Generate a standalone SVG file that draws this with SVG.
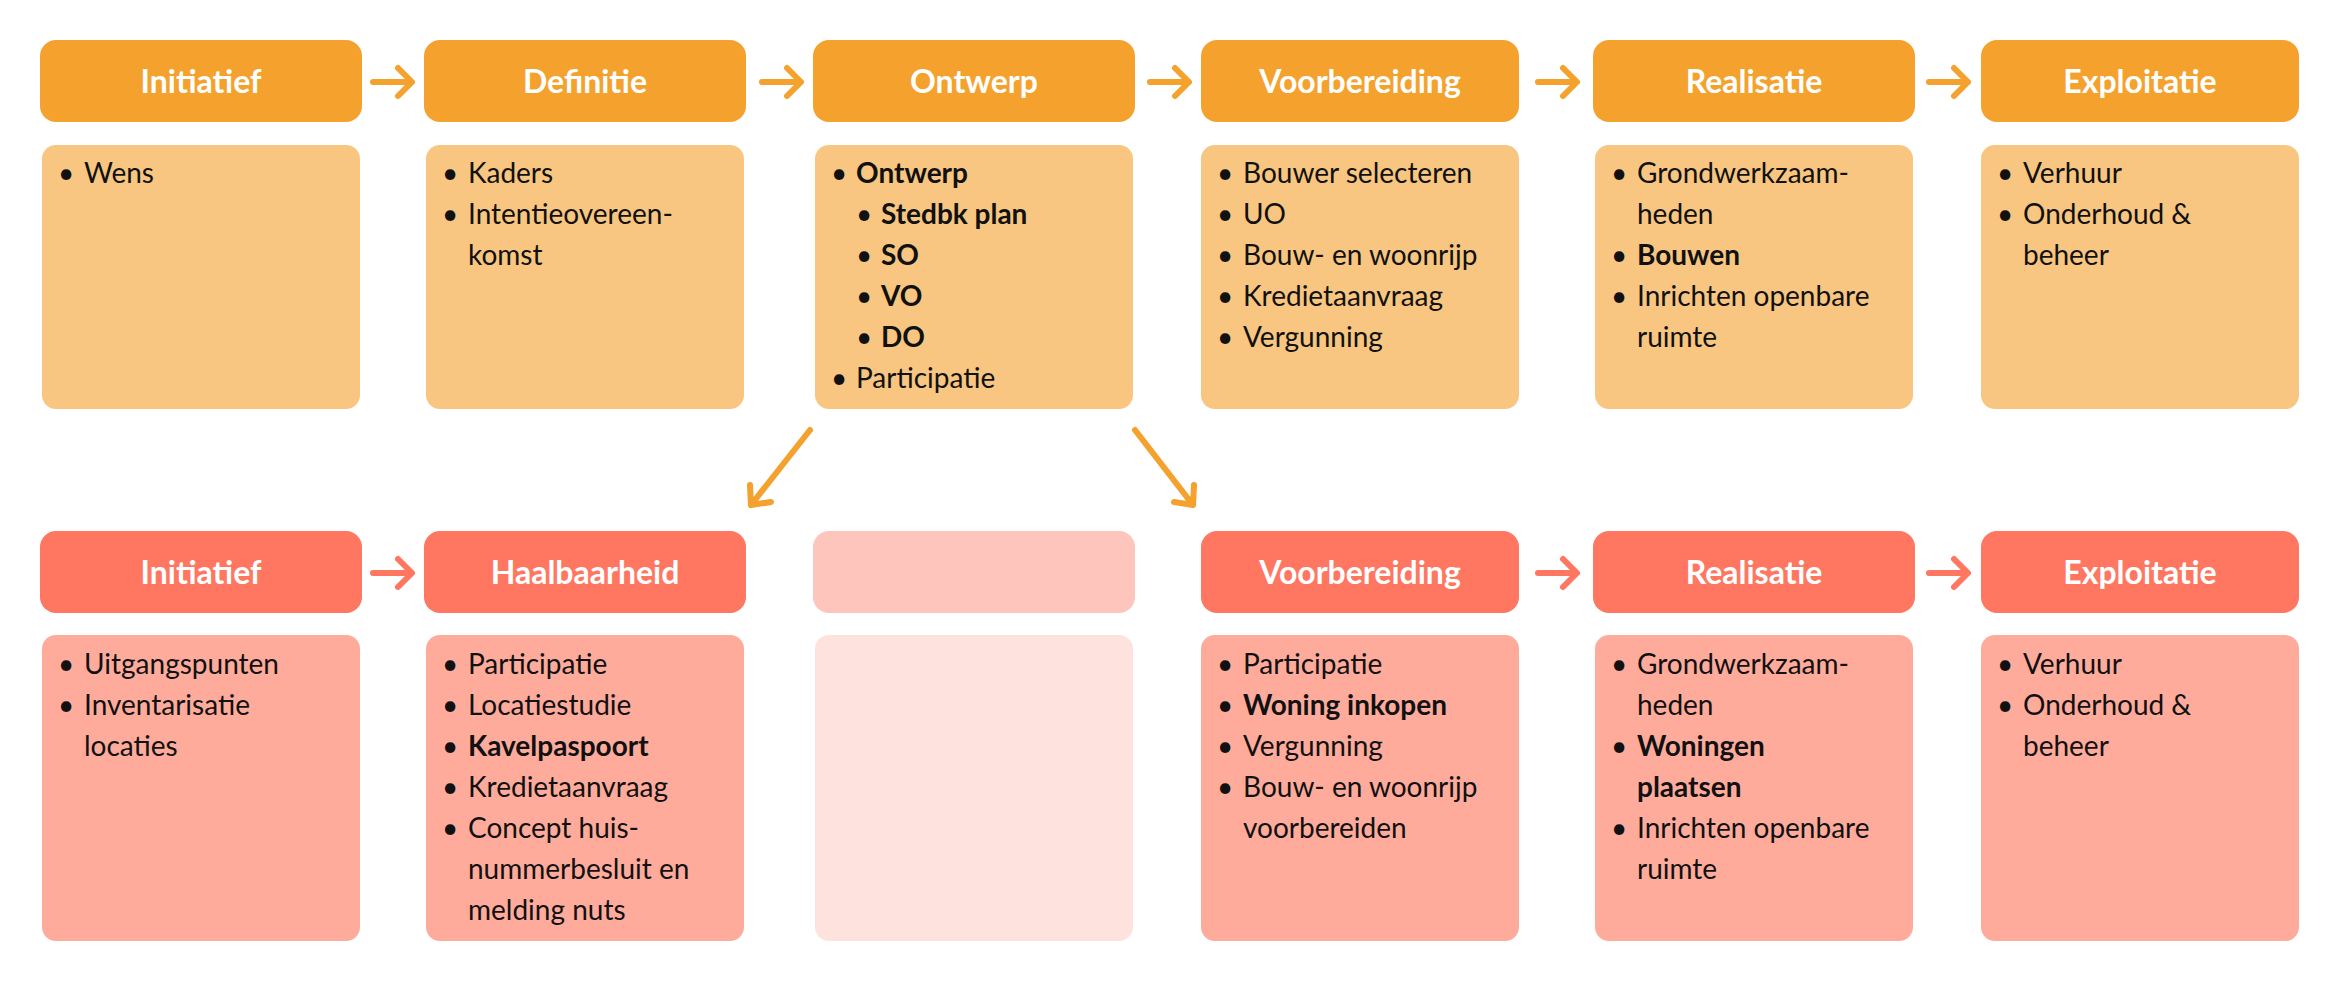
<svg xmlns="http://www.w3.org/2000/svg" width="2339" height="981" viewBox="0 0 2339 981">
<style>
.h1{fill:#F4A22D}.c1{fill:#F8C680}.h2{fill:#FF7661}.c2{fill:#FFAB9C}
.ht{font-family:Lato,"Open Sans",sans-serif;font-weight:bold;font-size:32px;fill:#fff;text-anchor:middle}
.t{font-family:Lato,"Open Sans",sans-serif;font-size:28px;fill:#111}
.b{font-weight:bold}
.ar1{stroke:#F4A22D;stroke-width:6;fill:none;stroke-linecap:round;stroke-linejoin:round}
.ar2{stroke:#FF7661;stroke-width:6;fill:none;stroke-linecap:round;stroke-linejoin:round}
</style>
<rect width="2339" height="981" fill="#fff"/>
<g id="connectors">
<path class="ar1" d="M373 82H411M398 68L412 82L398 96"/>
<path class="ar1" d="M762 82H800M787 68L801 82L787 96"/>
<path class="ar1" d="M1150 82H1188M1175 68L1189 82L1175 96"/>
<path class="ar1" d="M1538 82H1576M1563 68L1577 82L1563 96"/>
<path class="ar1" d="M1929 82H1967M1954 68L1968 82L1954 96"/>
<path class="ar1" d="M810 430L751 505M750 485L751 505L771 502"/>
<path class="ar1" d="M1135 430L1193 505M1174 502L1193 505L1194 485"/>
<path class="ar2" d="M373 573H411M398 559L412 573L398 587"/>
<path class="ar2" d="M1538 573H1576M1563 559L1577 573L1563 587"/>
<path class="ar2" d="M1929 573H1967M1954 559L1968 573L1954 587"/>
</g>
<g id="t1"><rect class="h1" x="40" y="40" width="322" height="82" rx="16"/><text class="ht" x="201" y="93">Initiatief</text>
<rect class="c1" x="42" y="145" width="318" height="264" rx="14"/>
<text class="t"><tspan x="58" y="183">•</tspan><tspan x="84" y="183">Wens</tspan></text></g>
<g id="t2"><rect class="h1" x="424" y="40" width="322" height="82" rx="16"/><text class="ht" x="585" y="93">Definitie</text>
<rect class="c1" x="426" y="145" width="318" height="264" rx="14"/>
<text class="t"><tspan x="442" y="183">•</tspan><tspan x="468" y="183">Kaders</tspan><tspan x="442" y="224">•</tspan><tspan x="468" y="224">Intentieovereen-</tspan><tspan x="468" y="265">komst</tspan></text></g>
<g id="t3"><rect class="h1" x="813" y="40" width="322" height="82" rx="16"/><text class="ht" x="974" y="93">Ontwerp</text>
<rect class="c1" x="815" y="145" width="318" height="264" rx="14"/>
<text class="t"><tspan x="831" y="183">•</tspan><tspan x="856" y="183" class="b">Ontwerp</tspan>
<tspan x="856" y="224">•</tspan><tspan x="881" y="224" class="b">Stedbk plan</tspan>
<tspan x="856" y="265">•</tspan><tspan x="881" y="265" class="b">SO</tspan>
<tspan x="856" y="306">•</tspan><tspan x="881" y="306" class="b">VO</tspan>
<tspan x="856" y="347">•</tspan><tspan x="881" y="347" class="b">DO</tspan>
<tspan x="831" y="388">•</tspan><tspan x="856" y="388">Participatie</tspan></text></g>
<g id="t4"><rect class="h1" x="1201" y="40" width="318" height="82" rx="16"/><text class="ht" x="1360" y="93">Voorbereiding</text>
<rect class="c1" x="1201" y="145" width="318" height="264" rx="14"/>
<text class="t"><tspan x="1217" y="183">•</tspan><tspan x="1243" y="183">Bouwer selecteren</tspan><tspan x="1217" y="224">•</tspan><tspan x="1243" y="224">UO</tspan><tspan x="1217" y="265">•</tspan><tspan x="1243" y="265">Bouw- en woonrijp</tspan><tspan x="1217" y="306">•</tspan><tspan x="1243" y="306">Kredietaanvraag</tspan><tspan x="1217" y="347">•</tspan><tspan x="1243" y="347">Vergunning</tspan></text></g>
<g id="t5"><rect class="h1" x="1593" y="40" width="322" height="82" rx="16"/><text class="ht" x="1754" y="93">Realisatie</text>
<rect class="c1" x="1595" y="145" width="318" height="264" rx="14"/>
<text class="t"><tspan x="1611" y="183">•</tspan><tspan x="1637" y="183">Grondwerkzaam-</tspan><tspan x="1637" y="224">heden</tspan><tspan x="1611" y="265">•</tspan><tspan x="1637" y="265" class="b">Bouwen</tspan><tspan x="1611" y="306">•</tspan><tspan x="1637" y="306">Inrichten openbare</tspan><tspan x="1637" y="347">ruimte</tspan></text></g>
<g id="t6"><rect class="h1" x="1981" y="40" width="318" height="82" rx="16"/><text class="ht" x="2140" y="93">Exploitatie</text>
<rect class="c1" x="1981" y="145" width="318" height="264" rx="14"/>
<text class="t"><tspan x="1997" y="183">•</tspan><tspan x="2023" y="183">Verhuur</tspan><tspan x="1997" y="224">•</tspan><tspan x="2023" y="224">Onderhoud &amp;</tspan><tspan x="2023" y="265">beheer</tspan></text></g>
<g id="b1"><rect class="h2" x="40" y="531" width="322" height="82" rx="16"/><text class="ht" x="201" y="584">Initiatief</text>
<rect class="c2" x="42" y="635" width="318" height="306" rx="14"/>
<text class="t"><tspan x="58" y="674">•</tspan><tspan x="84" y="674">Uitgangspunten</tspan><tspan x="58" y="715">•</tspan><tspan x="84" y="715">Inventarisatie</tspan><tspan x="84" y="756">locaties</tspan></text></g>
<g id="b2"><rect class="h2" x="424" y="531" width="322" height="82" rx="16"/><text class="ht" x="585" y="584">Haalbaarheid</text>
<rect class="c2" x="426" y="635" width="318" height="306" rx="14"/>
<text class="t"><tspan x="442" y="674">•</tspan><tspan x="468" y="674">Participatie</tspan><tspan x="442" y="715">•</tspan><tspan x="468" y="715">Locatiestudie</tspan><tspan x="442" y="756">•</tspan><tspan x="468" y="756" class="b">Kavelpaspoort</tspan><tspan x="442" y="797">•</tspan><tspan x="468" y="797">Kredietaanvraag</tspan><tspan x="442" y="838">•</tspan><tspan x="468" y="838">Concept huis-</tspan><tspan x="468" y="879">nummerbesluit en</tspan><tspan x="468" y="920">melding nuts</tspan></text></g>
<g id="b3"><rect x="813" y="531" width="322" height="82" rx="16" fill="#FEC5BC"/>
<rect x="815" y="635" width="318" height="306" rx="14" fill="#FEE2DD"/></g>
<g id="b4"><rect class="h2" x="1201" y="531" width="318" height="82" rx="16"/><text class="ht" x="1360" y="584">Voorbereiding</text>
<rect class="c2" x="1201" y="635" width="318" height="306" rx="14"/>
<text class="t"><tspan x="1217" y="674">•</tspan><tspan x="1243" y="674">Participatie</tspan><tspan x="1217" y="715">•</tspan><tspan x="1243" y="715" class="b">Woning inkopen</tspan><tspan x="1217" y="756">•</tspan><tspan x="1243" y="756">Vergunning</tspan><tspan x="1217" y="797">•</tspan><tspan x="1243" y="797">Bouw- en woonrijp</tspan><tspan x="1243" y="838">voorbereiden</tspan></text></g>
<g id="b5"><rect class="h2" x="1593" y="531" width="322" height="82" rx="16"/><text class="ht" x="1754" y="584">Realisatie</text>
<rect class="c2" x="1595" y="635" width="318" height="306" rx="14"/>
<text class="t"><tspan x="1611" y="674">•</tspan><tspan x="1637" y="674">Grondwerkzaam-</tspan><tspan x="1637" y="715">heden</tspan><tspan x="1611" y="756">•</tspan><tspan x="1637" y="756" class="b">Woningen</tspan><tspan x="1637" y="797" class="b">plaatsen</tspan><tspan x="1611" y="838">•</tspan><tspan x="1637" y="838">Inrichten openbare</tspan><tspan x="1637" y="879">ruimte</tspan></text></g>
<g id="b6"><rect class="h2" x="1981" y="531" width="318" height="82" rx="16"/><text class="ht" x="2140" y="584">Exploitatie</text>
<rect class="c2" x="1981" y="635" width="318" height="306" rx="14"/>
<text class="t"><tspan x="1997" y="674">•</tspan><tspan x="2023" y="674">Verhuur</tspan><tspan x="1997" y="715">•</tspan><tspan x="2023" y="715">Onderhoud &amp;</tspan><tspan x="2023" y="756">beheer</tspan></text></g>
</svg>
